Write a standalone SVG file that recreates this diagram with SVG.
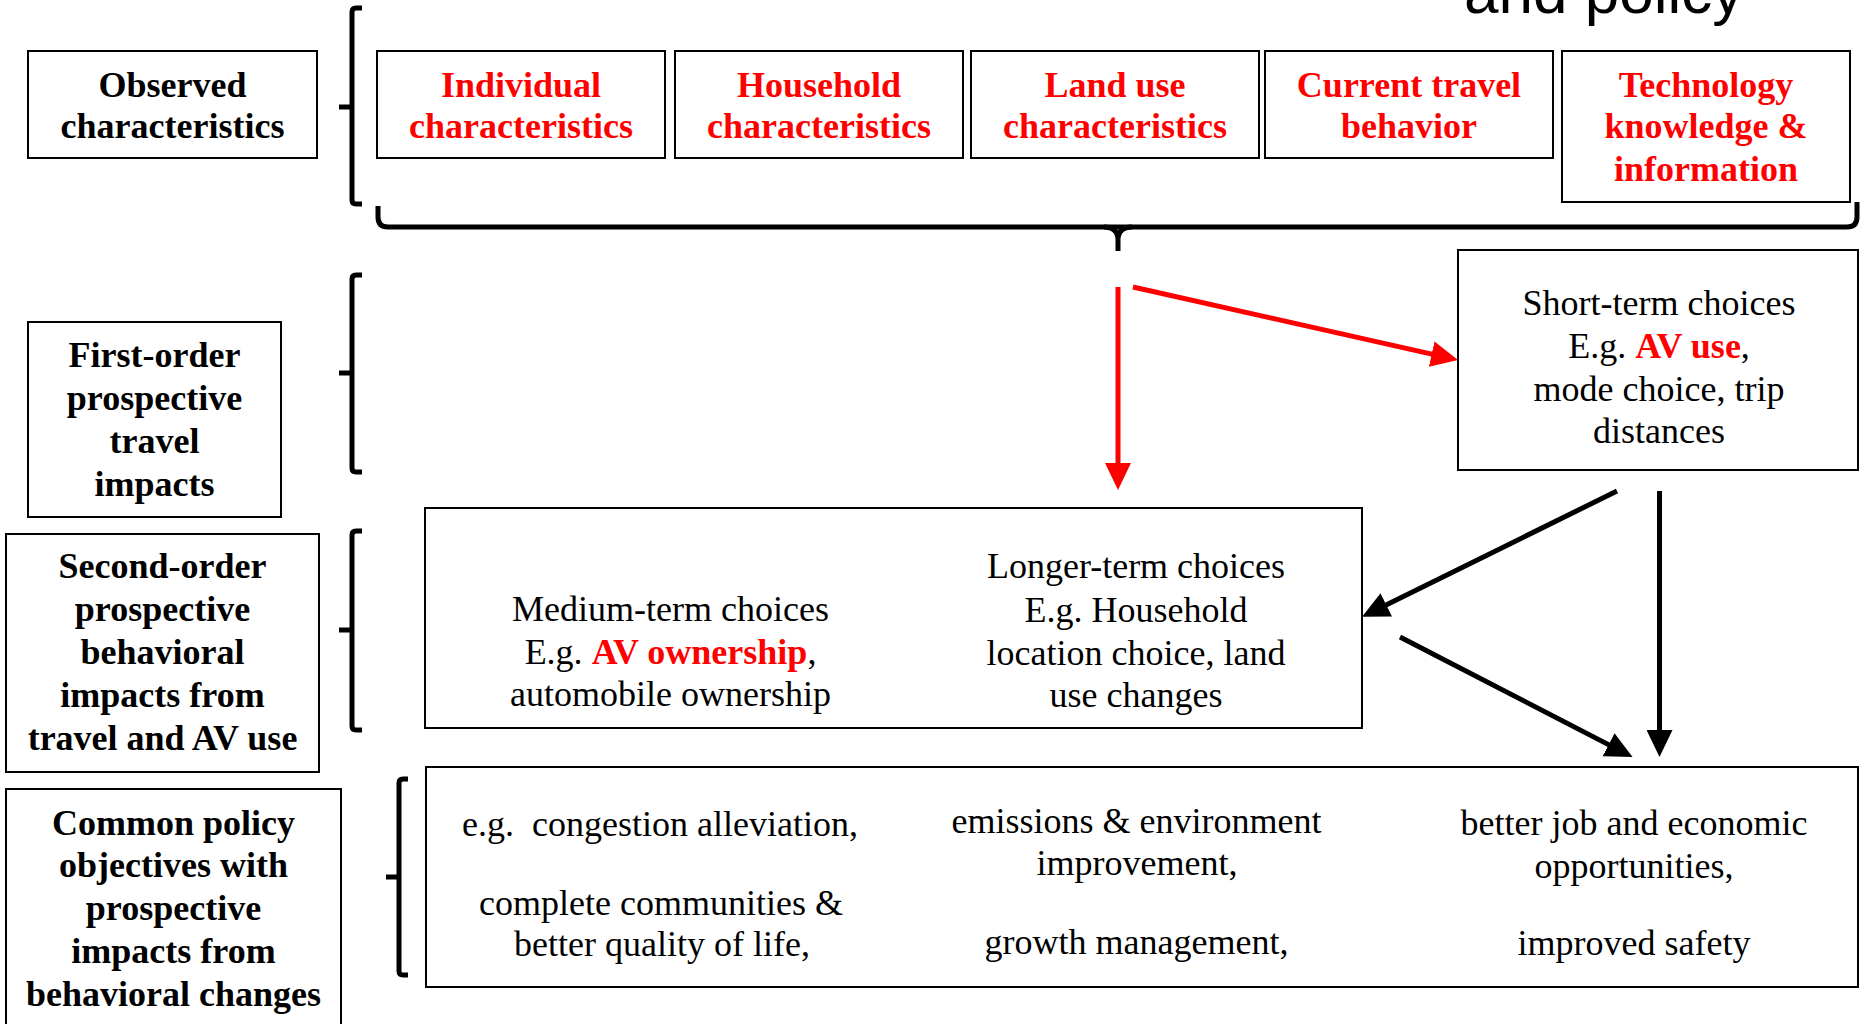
<svg xmlns="http://www.w3.org/2000/svg" width="1860" height="1024" viewBox="0 0 1860 1024">
  <style>
    .box { fill: #fff; stroke: #000; stroke-width: 2; }
    .t { font-family: "Liberation Serif", "Times New Roman", serif; font-size: 36px; text-anchor: middle; fill: #000; white-space: pre; }
    .b { font-weight: bold; }
    .red { fill: #ff0000; }
    .brk { fill: none; stroke: #000; stroke-width: 5; }
    .ar-red { stroke: #ff0000; stroke-width: 5; fill: none; }
    .ar-blk { stroke: #000; stroke-width: 5; fill: none; }
    .title { font-family: "Liberation Sans", Arial, sans-serif; font-size: 62px; fill: #000; }
  </style>
  <defs>
    <marker id="headRed" markerUnits="userSpaceOnUse" markerWidth="27" markerHeight="26" refX="7" refY="13" orient="auto">
      <path d="M0,0 L27,13 L0,26 Z" fill="#ff0000"/>
    </marker>
    <marker id="headBlk" markerUnits="userSpaceOnUse" markerWidth="27" markerHeight="26" refX="7" refY="13" orient="auto">
      <path d="M0,0 L27,13 L0,26 Z" fill="#000"/>
    </marker>
  </defs>

  <rect x="0" y="0" width="1860" height="1024" fill="#fff"/>

  <!-- heading text cut by the top edge -->
  <text class="title" x="1464" y="13">and policy</text>

  <!-- row labels -->
  <g id="label-observed">
    <rect class="box" x="28" y="51" width="289" height="107"/>
    <text class="t b" x="172.5" y="97">Observed</text>
    <text class="t b" x="172.5" y="138">characteristics</text>
  </g>
  <g id="label-first-order">
    <rect class="box" x="28" y="322" width="253" height="195"/>
    <text class="t b" x="154.5" y="367">First-order</text>
    <text class="t b" x="154.5" y="410">prospective</text>
    <text class="t b" x="154.5" y="453">travel</text>
    <text class="t b" x="154.5" y="496">impacts</text>
  </g>
  <g id="label-second-order">
    <rect class="box" x="6" y="534" width="313" height="238"/>
    <text class="t b" x="162.5" y="578">Second-order</text>
    <text class="t b" x="162.5" y="621">prospective</text>
    <text class="t b" x="162.5" y="664">behavioral</text>
    <text class="t b" x="162.5" y="707">impacts from</text>
    <text class="t b" x="162.5" y="750">travel and AV use</text>
  </g>
  <g id="label-policy">
    <rect class="box" x="6" y="789" width="335" height="260"/>
    <text class="t b" x="173.5" y="835">Common policy</text>
    <text class="t b" x="173.5" y="877">objectives with</text>
    <text class="t b" x="173.5" y="920">prospective</text>
    <text class="t b" x="173.5" y="963">impacts from</text>
    <text class="t b" x="173.5" y="1006">behavioral changes</text>
  </g>

  <!-- brackets -->
  <g id="brackets">
    <path class="brk" d="M362,8 H356 Q352,8 352,12 V200 Q352,204 356,204 H362 M339,107 H352"/>
    <path class="brk" d="M362,275 H356 Q352,275 352,279 V468 Q352,472 356,472 H362 M339,373 H352"/>
    <path class="brk" d="M362,531 H356 Q352,531 352,535 V726 Q352,730 356,730 H362 M339,630 H352"/>
    <path class="brk" d="M408,779 H403 Q399,779 399,783 V971 Q399,975 403,975 H408 M386,877 H399"/>
    <path class="brk" d="M378,206 V217 Q378,227 388,227 H1847 Q1857,227 1857,217 V202"/>
    <path class="brk" d="M1104,227 Q1118,227 1118,240 V251 M1132,227 Q1118,227 1118,240"/>
  </g>

  <!-- observed characteristic boxes -->
  <g id="individual">
    <rect class="box" x="377" y="51" width="288" height="107"/>
    <text class="t b red" x="521" y="97">Individual</text>
    <text class="t b red" x="521" y="138">characteristics</text>
  </g>
  <g id="household">
    <rect class="box" x="675" y="51" width="288" height="107"/>
    <text class="t b red" x="819" y="97">Household</text>
    <text class="t b red" x="819" y="138">characteristics</text>
  </g>
  <g id="land-use">
    <rect class="box" x="971" y="51" width="288" height="107"/>
    <text class="t b red" x="1115" y="97">Land use</text>
    <text class="t b red" x="1115" y="138">characteristics</text>
  </g>
  <g id="current-travel">
    <rect class="box" x="1265" y="51" width="288" height="107"/>
    <text class="t b red" x="1409" y="97">Current travel</text>
    <text class="t b red" x="1409" y="138">behavior</text>
  </g>
  <g id="technology">
    <rect class="box" x="1562" y="51" width="288" height="151"/>
    <text class="t b red" x="1706" y="97">Technology</text>
    <text class="t b red" x="1706" y="138">knowledge &amp;</text>
    <text class="t b red" x="1706" y="181">information</text>
  </g>

  <!-- choices -->
  <g id="short-term">
    <rect class="box" x="1458" y="250" width="400" height="220"/>
    <text class="t" x="1659" y="315">Short-term choices</text>
    <text class="t" x="1659" y="358">E.g. <tspan class="b red">AV use</tspan>,</text>
    <text class="t" x="1659" y="401">mode choice, trip</text>
    <text class="t" x="1659" y="443">distances</text>
  </g>
  <g id="medium-longer-term">
    <rect class="box" x="425" y="508" width="937" height="220"/>
    <text class="t" x="670.5" y="621">Medium-term choices</text>
    <text class="t" x="670.5" y="664">E.g. <tspan class="b red">AV ownership</tspan>,</text>
    <text class="t" x="670.5" y="706">automobile ownership</text>
    <text class="t" x="1136" y="578">Longer-term choices</text>
    <text class="t" x="1136" y="622">E.g. Household</text>
    <text class="t" x="1136" y="665">location choice, land</text>
    <text class="t" x="1136" y="707">use changes</text>
  </g>
  <g id="objectives">
    <rect class="box" x="426" y="767" width="1432" height="220"/>
    <text class="t" x="660" y="836">e.g.  congestion alleviation,</text>
    <text class="t" x="661" y="915">complete communities &amp;</text>
    <text class="t" x="662" y="956">better quality of life,</text>
    <text class="t" x="1136.5" y="833">emissions &amp; environment</text>
    <text class="t" x="1137" y="875">improvement,</text>
    <text class="t" x="1136.5" y="954">growth management,</text>
    <text class="t" x="1634" y="835">better job and economic</text>
    <text class="t" x="1634" y="878">opportunities,</text>
    <text class="t" x="1634" y="955">improved safety</text>
  </g>

  <!-- connectors -->
  <g id="connectors">
    <line class="ar-red" x1="1118" y1="287" x2="1118" y2="470" marker-end="url(#headRed)"/>
    <line class="ar-red" x1="1133" y1="287" x2="1438.5" y2="355.6" marker-end="url(#headRed)"/>
    <line class="ar-blk" x1="1617" y1="491" x2="1380" y2="608" marker-end="url(#headBlk)"/>
    <line class="ar-blk" x1="1659.5" y1="491" x2="1659.5" y2="737" marker-end="url(#headBlk)"/>
    <line class="ar-blk" x1="1400" y1="637" x2="1614.8" y2="747.9" marker-end="url(#headBlk)"/>
  </g>
</svg>
